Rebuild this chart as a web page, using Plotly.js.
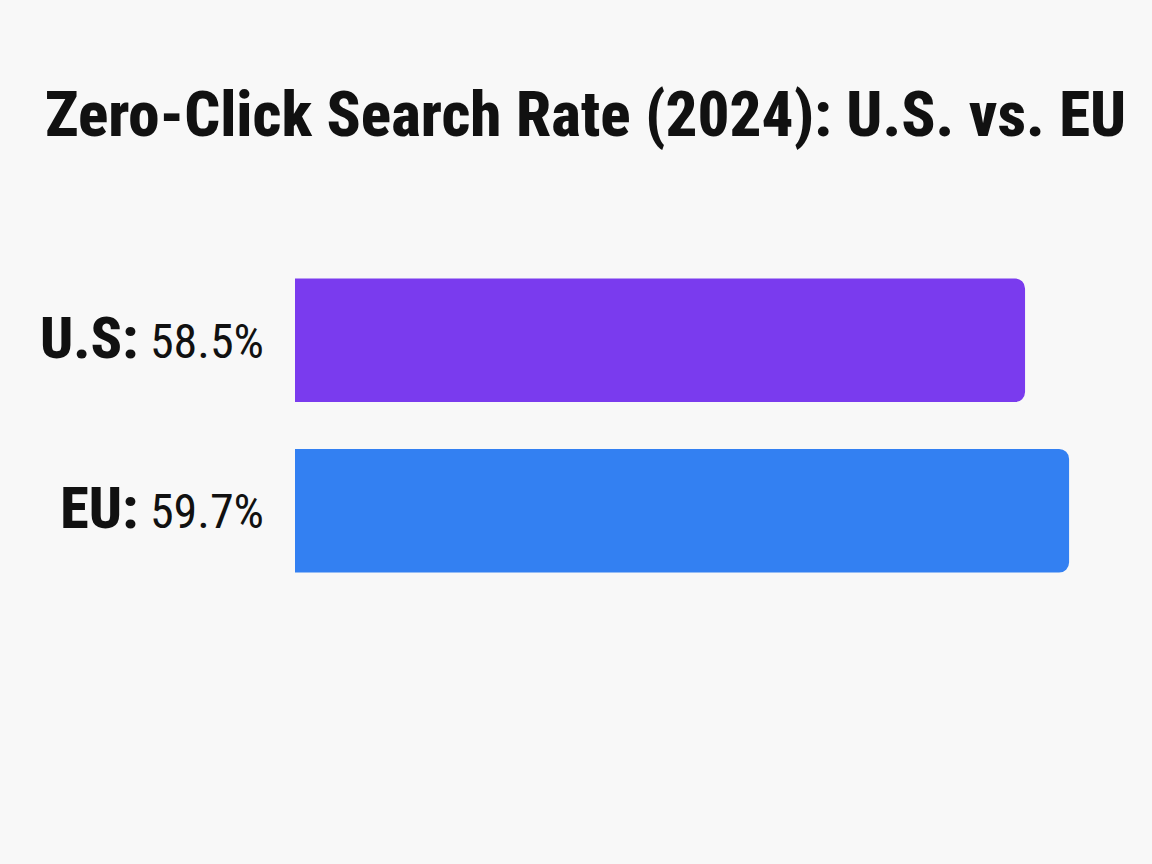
<!DOCTYPE html>
<html>
<head>
<meta charset="utf-8">
<script src="https://cdn.plot.ly/plotly-3.0.1.min.js"></script>
<style>
html,body{margin:0;padding:0;background:#f8f8f8;}
#chart{width:1152px;height:864px;}
</style>
</head>
<body>
<div id="chart"></div>
<script>
const regions = ["U.S", "EU"];
const rates = [58.5, 59.7];
const barColors = ["#7a3bee", "#3380f2"];
const chartTitle = "Zero-Click Search Rate (2024): U.S. vs. EU";

const tickLabels = regions.map((r, i) =>
  '<span style="font-weight:800;font-size:58px">' + r + ':</span> ' +
  '<span style="font-size:48px">' + rates[i].toFixed(1) + '%</span>');

const trace = {
  type: 'bar',
  orientation: 'h',
  x: rates,
  y: regions,
  marker: {color: barColors, line: {width: 0}},
  hoverinfo: 'none'
};

const layout = {
  width: 1152,
  height: 864,
  paper_bgcolor: '#f8f8f8',
  plot_bgcolor: '#f8f8f8',
  margin: {l: 295, r: 40, t: 254.5, b: 267.5, pad: 0},
  bargap: 0.275,
  barcornerradius: 10,
  showlegend: false,
  title: {
    text: chartTitle,
    x: 45 / 1152, xref: 'container', xanchor: 'left',
    y: 1 - 114 / 864, yref: 'container', yanchor: 'middle',
    font: {family: 'Roboto Condensed, Roboto', size: 63, weight: 800, color: '#111111'}
  },
  xaxis: {
    range: [38.6, 60.87],
    showgrid: false, zeroline: false, showline: false,
    showticklabels: false, ticks: ''
  },
  yaxis: {
    type: 'category',
    autorange: 'reversed',
    tickmode: 'array',
    tickvals: regions,
    ticktext: tickLabels,
    ticks: 'outside', ticklen: 20, tickcolor: 'rgba(0,0,0,0)',
    showgrid: false, zeroline: false, showline: false,
    tickfont: {family: 'Roboto Condensed, Roboto', size: 50, color: '#111111'}
  }
};

Plotly.newPlot('chart', [trace], layout, {displayModeBar: false, staticPlot: true});
</script>
</body>
</html>
